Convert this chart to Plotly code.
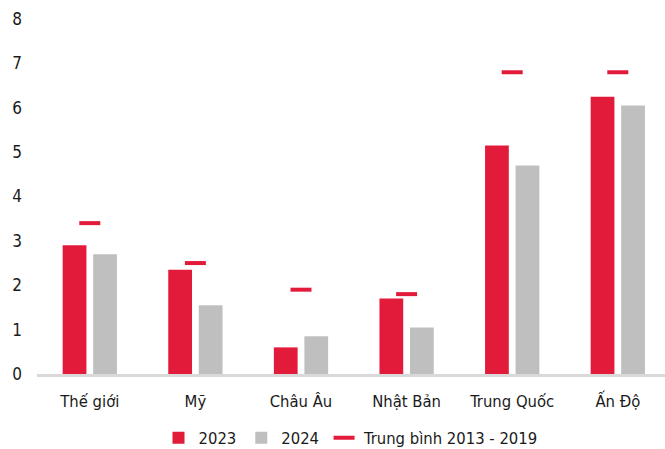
import plotly.graph_objects as go

# Data
categories = ["Thế giới", "Mỹ", "Châu Âu", "Nhật Bản", "Trung Quốc", "Ấn Độ"]
growth_2023 = [2.9, 2.35, 0.6, 1.7, 5.15, 6.25]
growth_2024 = [2.7, 1.55, 0.85, 1.05, 4.7, 6.05]
avg_2013_2019 = [3.4, 2.5, 1.9, 1.8, 6.8, 6.8]
y_ticks = [0, 1, 2, 3, 4, 5, 6, 7, 8]

RED = "#E31B3B"
GRAY = "#BFBFBF"
FONT = "DejaVu Sans Condensed, Liberation Sans Narrow, sans-serif"

fig = go.Figure()
fig.add_trace(go.Bar(
    x=categories, y=growth_2023, name="2023",
    marker=dict(color=RED, line=dict(width=0)),
    width=0.225, offset=-0.257,
))
fig.add_trace(go.Bar(
    x=categories, y=growth_2024, name="2024",
    marker=dict(color=GRAY, line=dict(width=0)),
    width=0.225, offset=0.032,
))
fig.add_trace(go.Scatter(
    x=categories, y=avg_2013_2019, name="Trung bình 2013 - 2019",
    mode="markers",
    marker=dict(symbol="line-ew", size=15, color=RED,
                line=dict(color=RED, width=4)),
))

fig.update_layout(
    width=665, height=449,
    margin=dict(l=37, r=0, t=19, b=75, autoexpand=False),
    paper_bgcolor="white", plot_bgcolor="white",
    font=dict(family=FONT, size=16.5, color="#1a1a1a"),
    showlegend=True,
    legend=dict(orientation="h", x=0.5, xanchor="center", y=-0.18,
                yanchor="middle", font=dict(size=16.5), itemwidth=30,
                traceorder="normal"),
)
fig.update_xaxes(
    type="category", range=[-0.5, 5.447],
    showline=True, linecolor="#D9D9D9", linewidth=2.5,
    showgrid=False, ticks="", tickfont=dict(size=16.5),
    ticklabelstandoff=10,
)
fig.update_yaxes(
    range=[0, 8], tickvals=y_ticks, showgrid=False, zeroline=False,
    showline=False, ticks="", ticklabelstandoff=14,
    tickfont=dict(size=17),
)

fig.write_html("out.html")
